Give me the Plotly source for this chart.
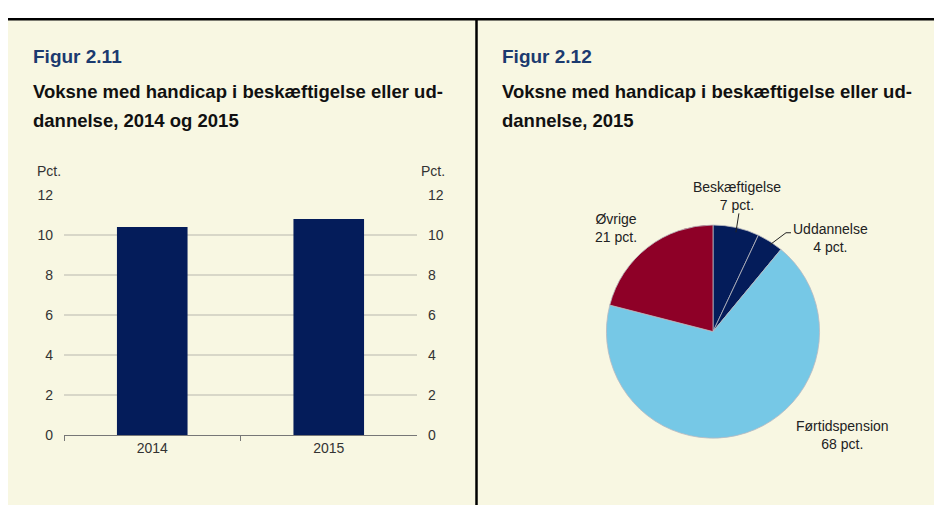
import math
import plotly.graph_objects as go

# ---- data ----
bar_years = ["2014", "2015"]
bar_values = [10.4, 10.8]
y_ticks = [0, 2, 4, 6, 8, 10, 12]

pie_labels = ["Beskæftigelse", "Uddannelse", "Førtidspension", "Øvrige"]
pie_values = [7, 4, 68, 21]
pie_colors = ["#041C5A", "#041C5A", "#76C8E6", "#8E0027"]

W, H = 934, 513
def px(x):
    return x / W
def py(y):
    return 1 - y / H

FONT = "Liberation Sans, Arial, sans-serif"
CREAM = "#F8F7E2"
GRID = "#D8D7C8"
TICKC = "#333333"

fig = go.Figure()

fig.add_trace(go.Bar(
    x=bar_years, y=bar_values, marker=dict(color="#041C5A", line=dict(width=0)),
    xaxis="x", yaxis="y", showlegend=False, hoverinfo="skip"))
# invisible trace for right axis
fig.add_trace(go.Scatter(
    x=bar_years, y=bar_values, mode="markers", marker=dict(opacity=0),
    xaxis="x", yaxis="y2", showlegend=False, hoverinfo="skip"))

# pie domain
pcx, pcy, pr = 713, 334, 110
fig.add_trace(go.Pie(
    labels=pie_labels, values=pie_values, sort=False, direction="clockwise",
    rotation=0, textinfo="none", hoverinfo="skip", showlegend=False,
    marker=dict(colors=pie_colors, line=dict(color="#B9B9C0", width=0.8)),
    domain=dict(x=[px(pcx - pr), px(pcx + pr)], y=[py(pcy + pr), py(pcy - pr)])))

shapes = [
    dict(type="rect", xref="paper", yref="paper", x0=px(8), x1=1, y0=0, y1=py(11),
         fillcolor=CREAM, line=dict(width=0), layer="below"),
    dict(type="line", xref="paper", yref="paper", x0=px(8), x1=1, y0=py(11.5), y1=py(11.5),
         line=dict(color="black", width=2.5)),
    dict(type="line", xref="paper", yref="paper", x0=px(476.5), x1=px(476.5), y0=0, y1=py(11),
         line=dict(color="black", width=2.5)),
]

# leader lines computed from slice angles
cum = 0
total = sum(pie_values)
mids = []
for v in pie_values:
    mids.append((cum + v / 2) / total * 2 * math.pi)
    cum += v
def on_circle(a, r):
    return pcx + r * math.sin(a), pcy - r * math.cos(a)
# Beskæftigelse
x0, y0 = on_circle(mids[0], pr - 5)
shapes.append(dict(type="line", xref="paper", yref="paper", x0=px(x0), y0=py(y0),
                   x1=px(x0 + 3), y1=py(212), line=dict(color="#222", width=1)))
# Uddannelse
x0, y0 = on_circle(mids[1], pr - 4)
shapes.append(dict(type="path", xref="paper", yref="paper",
                   path=f"M {px(x0)},{py(y0)} L {px(786)},{py(232)} L {px(791)},{py(232)}",
                   line=dict(color="#222", width=1)))

TF = 18.5
annotations = [
    dict(text="<b>Figur 2.11</b>", x=px(31), y=py(50), xanchor="left", yanchor="middle",
         font=dict(size=19, color="#1B3A6F", family=FONT)),
    dict(text="<b>Voksne med handicap i beskæftigelse eller ud-</b>", x=px(31), y=py(86),
         xanchor="left", yanchor="middle", font=dict(size=TF, color="#111", family=FONT)),
    dict(text="<b>dannelse, 2014 og 2015</b>", x=px(31), y=py(116),
         xanchor="left", yanchor="middle", font=dict(size=TF, color="#111", family=FONT)),
    dict(text="<b>Figur 2.12</b>", x=px(500), y=py(50), xanchor="left", yanchor="middle",
         font=dict(size=19, color="#1B3A6F", family=FONT)),
    dict(text="<b>Voksne med handicap i beskæftigelse eller ud-</b>", x=px(500), y=py(86),
         xanchor="left", yanchor="middle", font=dict(size=TF, color="#111", family=FONT)),
    dict(text="<b>dannelse, 2015</b>", x=px(500), y=py(116),
         xanchor="left", yanchor="middle", font=dict(size=TF, color="#111", family=FONT)),
    dict(text="Pct.", x=px(49), y=py(168), xanchor="center", yanchor="middle",
         font=dict(size=14, color=TICKC, family=FONT)),
    dict(text="Pct.", x=px(433), y=py(168), xanchor="center", yanchor="middle",
         font=dict(size=14, color=TICKC, family=FONT)),
    dict(text=f"{pie_labels[0]}<br>{pie_values[0]} pct.", x=px(737), y=py(194), xanchor="center",
         yanchor="middle", align="center", font=dict(size=14, color="#222", family=FONT)),
    dict(text=f"{pie_labels[1]}<br>{pie_values[1]} pct.", x=px(830), y=py(237), xanchor="center",
         yanchor="middle", align="center", font=dict(size=14, color="#222", family=FONT)),
    dict(text=f"{pie_labels[2]}<br>{pie_values[2]} pct.", x=px(842), y=py(441), xanchor="center",
         yanchor="middle", align="center", font=dict(size=14, color="#222", family=FONT)),
    dict(text=f"{pie_labels[3]}<br>{pie_values[3]} pct.", x=px(616), y=py(227), xanchor="center",
         yanchor="middle", align="center", font=dict(size=14, color="#222", family=FONT)),
]
for a in annotations:
    a.update(xref="paper", yref="paper", showarrow=False)

fig.update_layout(
    width=W, height=H, margin=dict(l=0, r=0, t=0, b=0),
    paper_bgcolor="white", plot_bgcolor="rgba(0,0,0,0)",
    bargap=0.6,
    xaxis=dict(domain=[px(64), px(417)], type="category", showgrid=False,
               showline=True, linecolor="#777", linewidth=1,
               ticks="outside", ticklen=5, tickcolor="#777", tickson="boundaries",
               tickfont=dict(size=14, color=TICKC, family=FONT), fixedrange=True),
    yaxis=dict(domain=[py(441), py(193)], range=[0, 12], tickvals=y_ticks,
               showgrid=True, gridcolor=GRID, gridwidth=1.5, zeroline=False, showline=False,
               ticks="", ticklabelstandoff=10,
               tickfont=dict(size=14, color=TICKC, family=FONT)),
    yaxis2=dict(overlaying="y", side="right", anchor="x", range=[0, 12], tickvals=y_ticks,
                showgrid=False, zeroline=False, showline=False, ticks="", ticklabelstandoff=10,
                tickfont=dict(size=14, color=TICKC, family=FONT)),
    shapes=shapes, annotations=annotations,
)

post = (
    "document.documentElement.style.margin='0';"
    "document.documentElement.style.padding='0';"
    "document.documentElement.style.overflow='hidden';"
    "document.body.style.margin='0';"
    "document.body.style.padding='0';"
    "document.body.style.overflow='hidden';"
    "var d=document.getElementById('{plot_id}');"
    "d.style.position='fixed';d.style.top='0px';d.style.left='0px';"
)
fig.write_html("out.html", config={"displayModeBar": False}, post_script=post)
